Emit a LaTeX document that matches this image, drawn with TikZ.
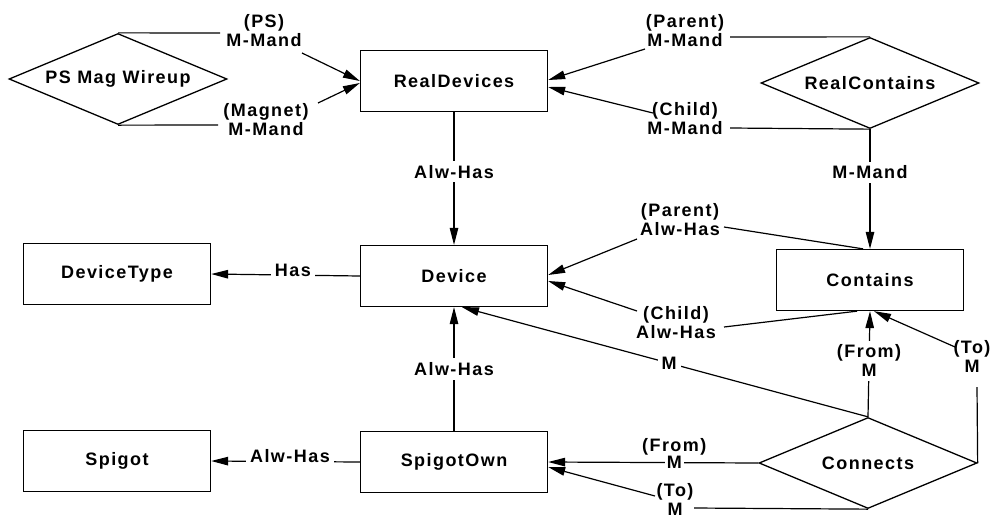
\documentclass[tikz,border=0pt]{standalone}
\usepackage{fontspec}
\setmainfont{Liberation Sans}[LetterSpace=8]
\usetikzlibrary{shapes.geometric,arrows.meta,calc}

\begin{document}
\begin{tikzpicture}[x=1pt,y=-1pt,
  every node/.style={font=\bfseries\fontsize{18}{19}\selectfont},
  ent/.style={draw, line width=1.3pt, rectangle, minimum width=187pt, minimum height=61pt, inner sep=0pt},
  rel/.style={draw, line width=1.3pt, diamond, shape aspect=2.4, minimum width=218pt, minimum height=91pt, inner sep=0pt},
  conn/.style={line width=1.2pt},
  arr/.style={conn, -{Triangle[length=17pt,width=8.5pt]}},
  lbl/.style={align=center, inner sep=2pt},
  cut/.style={lbl, fill=white, inner sep=4pt},
]
\useasboundingbox (0,0) rectangle (995,520);

% entities and relationships
\node[rel] (psmag)     at (118,79)  {PS Mag Wireup};
\node[ent] (realdev)   at (454,81)  {RealDevices};
\node[rel] (realcont)  at (870,83)  {RealContains};
\node[ent] (devtype)   at (117,274) {DeviceType};
\node[ent] (device)    at (454,276) {Device};
\node[ent] (contains)  at (870,280) {Contains};
\node[ent] (spigot)    at (117,461) {Spigot};
\node[ent] (spigotown) at (454,462) {SpigotOwn};
\node[rel] (connects)  at (868,463) {Connects};

% role labels at the bends
\node[lbl] (lps)     at (264,31)  {(PS)\\M-Mand};
\node[lbl] (lmag)    at (266,120) {(Magnet)\\M-Mand};
\node[lbl] (lpar1)   at (685,31)  {(Parent)\\M-Mand};
\node[lbl] (lchild1) at (685,119) {(Child)\\M-Mand};
\node[lbl] (lpar2)   at (680,220) {(Parent)\\Alw-Has};
\node[lbl] (lchild2) at (676,323) {(Child)\\Alw-Has};
\node[lbl] (lto1)    at (972,356) {(To)\\M};
\node[lbl] (lto2)    at (675,499) {(To)\\M};

% bend points of the broken connectors
\coordinate (a1) at (220,33);
\coordinate (a2) at (302,53);
\coordinate (b1) at (218,125);
\coordinate (b2) at (318,103);
\coordinate (c1) at (730,37);
\coordinate (c2) at (645,49);
\coordinate (d1) at (730,128);
\coordinate (d2) at (653,113);
\coordinate (e1) at (724,227);
\coordinate (e2) at (637,239);
\coordinate (f1) at (724,327);
\coordinate (f2) at (637,311);
\coordinate (g1) at (977,387);
\coordinate (g2) at (955,347);
\coordinate (h1) at (694,508);
\coordinate (h2) at (655,496);

% PS Mag Wireup -> RealDevices
\draw[conn] (psmag.north) -- (a1);
\draw[arr]  (a2) -- (realdev.west);
\draw[conn] (psmag.south) -- (b1);
\draw[arr]  (b2) -- ($(realdev.west)+(0,2)$);

% RealContains -> RealDevices, Contains
\draw[conn] (realcont.north) -- (c1);
\draw[arr]  (c2) -- ($(realdev.east)+(0,-1)$);
\draw[conn] (realcont.south) -- (d1);
\draw[arr]  (d2) -- ($(realdev.east)+(0,6)$);
\draw[arr]  (realcont.south) -- (contains.north) node[cut, pos=0.36] {M-Mand};

% RealDevices -> Device
\draw[arr] (realdev.south) -- (device.north) node[cut, pos=0.45] {Alw-Has};

% Device -> DeviceType
\draw[arr] (device.west) -- (devtype.east) node[cut, pos=0.45, yshift=5pt] {Has};

% Contains -> Device
\draw[conn] ($(contains.north)+(-7,0)$) -- (e1);
\draw[arr]  (e2) -- ($(device.east)+(0,-1)$);
\draw[conn] ($(contains.south)+(-13,0)$) -- (f1);
\draw[arr]  (f2) -- ($(device.east)+(0,5)$);

% SpigotOwn -> Device, Spigot
\draw[arr] (spigotown.north) -- (device.south) node[cut, pos=0.5] {Alw-Has};
\draw[arr] (spigotown.west) -- (spigot.east) node[cut, pos=0.47, yshift=5pt] {Alw-Has};

% Connects -> Device, Contains, SpigotOwn
\draw[arr] (connects.north) -- ($(device.south)+(8,0)$) node[cut, pos=0.49] {M};
\draw[arr] (connects.north) -- (contains.south) node[cut, pos=0.53] {(From)\\M};
\draw[conn] (connects.east) -- (g1);
\draw[arr]  (g2) -- ($(contains.south)+(4,0)$);
\draw[arr] (connects.west) -- (spigotown.east)
  node[cut, pos=0.40, inner xsep=2pt, label={[lbl, yshift=-6pt]above:(From)}] (lfrom2) {M};
\draw[conn] (connects.south) -- (h1);
\draw[arr]  (h2) -- ($(spigotown.east)+(0,5)$);
\end{tikzpicture}
\end{document}
